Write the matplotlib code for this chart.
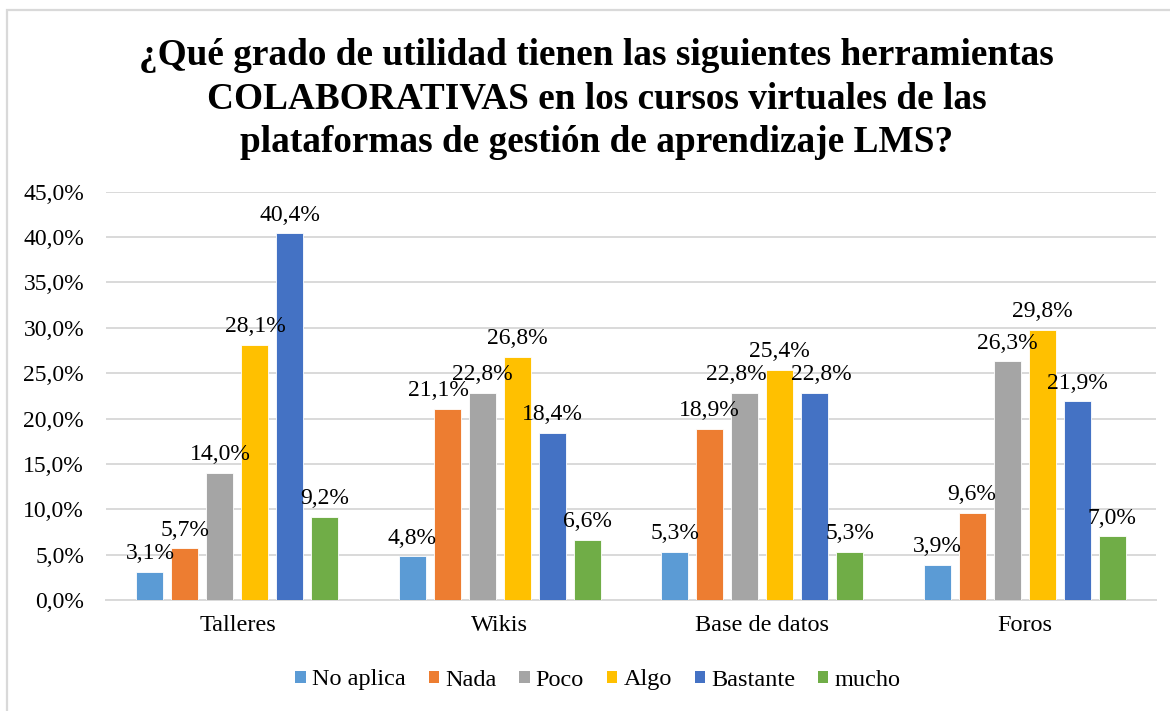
import matplotlib
matplotlib.use("Agg")
import matplotlib.pyplot as plt
from matplotlib.patches import Patch, Rectangle
import numpy as np

plt.rcParams["font.family"] = ["Liberation Serif", "DejaVu Serif"]

categories = ["Talleres", "Wikis", "Base de datos", "Foros"]
series_names = ["No aplica", "Nada", "Poco", "Algo", "Bastante", "mucho"]
no_aplica = [3.1, 4.8, 5.3, 3.9]
nada = [5.7, 21.1, 18.9, 9.6]
poco = [14.0, 22.8, 22.8, 26.3]
algo = [28.1, 26.8, 25.4, 29.8]
bastante = [40.4, 18.4, 22.8, 21.9]
mucho = [9.2, 6.6, 5.3, 7.0]
y_ticks = [0, 5, 10, 15, 20, 25, 30, 35, 40, 45]

series_values = [no_aplica, nada, poco, algo, bastante, mucho]
colors = ["#5B9BD5", "#ED7D31", "#A5A5A5", "#FFC000", "#4472C4", "#70AD47"]

# small horizontal nudges (points) for labels that would otherwise collide
label_nudge = {(1, 1): -6.5, (2, 2): -6.0, (2, 4): 4.7}

W, H = 1170, 711
fig = plt.figure(figsize=(W / 100, H / 100), dpi=100)
ax = fig.add_axes([106.3 / W, 1 - 600 / H, (1155.7 - 106.3) / W, (600 - 191.7) / H])

# outer chart frame
fig.patches.append(Rectangle((7 / W, -0.05), 1.1, 1 - 10 / H + 0.05,
                             transform=fig.transFigure, fill=False,
                             edgecolor="#d9d9d9", linewidth=1.6, zorder=0))

x = np.arange(len(categories))
pitch = 0.1334
bar_w = 0.103
label_sz = 17
axis_sz = 17.5

for i, (name, vals, col) in enumerate(zip(series_names, series_values, colors)):
    pos = x + (i - 2.5) * pitch
    bars = ax.bar(pos, vals, width=bar_w, color=col, label=name, zorder=3,
                  edgecolor="white", linewidth=0.6)
    for j, (b, v) in enumerate(zip(bars, vals)):
        dx = label_nudge.get((j, i), 0)
        ax.annotate(f"{v:.1f}%".replace(".", ","),
                    (b.get_x() + b.get_width() / 2, v),
                    xytext=(dx, 5.5), textcoords="offset points",
                    ha="center", va="bottom", fontsize=label_sz, color="#000000",
                    zorder=4)

ax.set_xlim(-0.5, len(categories) - 0.5)
ax.set_ylim(0, 45)
ax.set_yticks(y_ticks)
ax.set_yticklabels([f"{t:.1f}%".replace(".", ",") for t in y_ticks], fontsize=label_sz)
ax.set_xticks(x)
ax.set_xticklabels(categories, fontsize=axis_sz)
ax.tick_params(axis="y", length=0, pad=16)
ax.tick_params(axis="x", length=0, pad=11)
ax.yaxis.grid(True, color="#d9d9d9", linewidth=1.4, zorder=0)
ax.set_axisbelow(True)
for s in ["top", "right", "left"]:
    ax.spines[s].set_visible(False)
ax.spines["bottom"].set_color("#d9d9d9")
ax.spines["bottom"].set_linewidth(1.4)

handles = [Patch(facecolor=c, edgecolor="none") for c in colors]
fig.legend(handles, series_names, loc="center", bbox_to_anchor=(598 / W, 1 - 680 / H),
           ncol=6, frameon=False, fontsize=axis_sz, handlelength=0.42, handleheight=0.42,
           handletextpad=0.25, columnspacing=0.95)

fig.text(596.5 / W, 1 - 38 / H,
         "¿Qué grado de utilidad tienen las siguientes herramientas\n"
         "COLABORATIVAS en los cursos virtuales de las\n"
         "plataformas de gestión de aprendizaje LMS?",
         ha="center", va="top", fontsize=26.8, fontweight="bold", linespacing=1.32)

fig.savefig("out.png", dpi=100)
